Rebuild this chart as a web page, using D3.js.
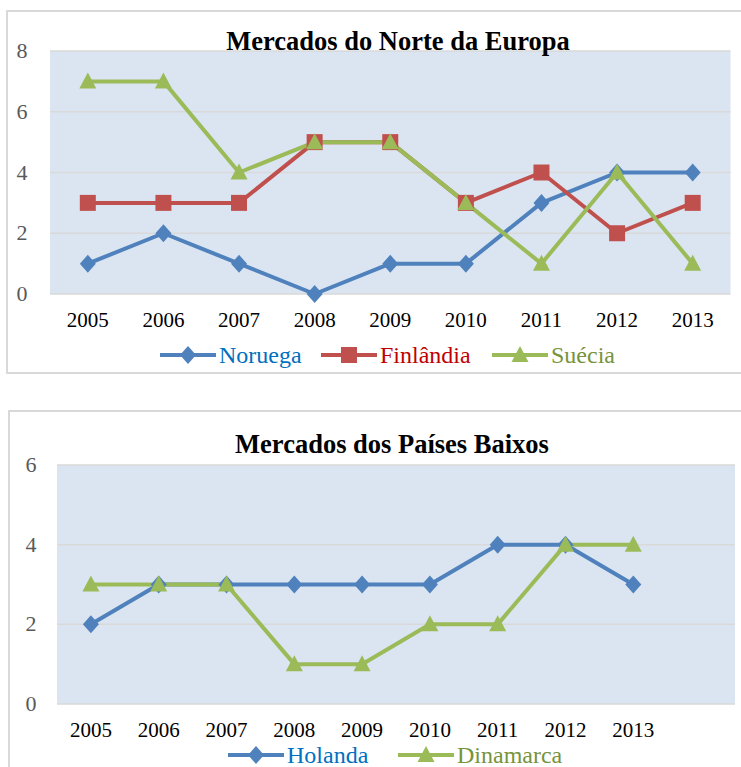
<!DOCTYPE html>
<html>
<head>
<meta charset="utf-8">
<script src="https://cdn.jsdelivr.net/npm/d3@7"></script>
<style>
  body { margin: 0; background: #fff; }
  text { font-family: "Liberation Serif", "Times New Roman", serif; }
</style>
</head>
<body>
<svg id="chart" width="741" height="767"></svg>
<script>
// ---- data ----
const years = ["2005", "2006", "2007", "2008", "2009", "2010", "2011", "2012", "2013"];

const noruega   = [1, 2, 1, 0, 1, 1, 3, 4, 4];
const finlandia = [3, 3, 3, 5, 5, 3, 4, 2, 3];
const suecia    = [7, 7, 4, 5, 5, 3, 1, 4, 1];

const holanda   = [2, 3, 3, 3, 3, 3, 4, 4, 3];
const dinamarca = [3, 3, 3, 1, 1, 2, 2, 4, 4];

const ticks1 = [0, 2, 4, 6, 8];
const ticks2 = [0, 2, 4, 6];

const BLUE = "#4f81bd", RED = "#c0504d", GREEN = "#9bbb59";

const svg = d3.select("#chart");

// draws one panel
function drawPanel(cfg) {
  const g = svg.append("g");

  // outer frame
  g.append("rect")
    .attr("x", cfg.frame[0]).attr("y", cfg.frame[1])
    .attr("width", cfg.frame[2]).attr("height", cfg.frame[3])
    .attr("fill", "#fff").attr("stroke", "#d9d9d9").attr("stroke-width", 2);

  const x = d3.scaleBand().domain(cfg.cats).range([cfg.left, cfg.right]);
  const y = d3.scaleLinear().domain([0, d3.max(cfg.ticks)]).range([cfg.bottom, cfg.top]);

  g.append("rect")
    .attr("x", cfg.left).attr("y", cfg.top)
    .attr("width", cfg.right - cfg.left).attr("height", cfg.bottom - cfg.top)
    .attr("fill", "#dbe5f1");

  // gridlines
  g.selectAll(".grid").data(cfg.ticks).enter().append("line")
    .attr("x1", cfg.left).attr("x2", cfg.right)
    .attr("y1", d => y(d)).attr("y2", d => y(d))
    .attr("stroke", "#d9d9d9").attr("stroke-width", 1.5);

  // y labels
  g.selectAll(".ylab").data(cfg.ticks).enter().append("text")
    .attr("x", cfg.ylabX).attr("y", d => y(d) + 7)
    .attr("text-anchor", "middle")
    .attr("fill", "#595959").style("font-size", "22px")
    .text(d => d);

  // x labels
  g.selectAll(".xlab").data(cfg.cats).enter().append("text")
    .attr("x", d => x(d) + x.bandwidth() / 2).attr("y", cfg.xlabY)
    .attr("text-anchor", "middle")
    .attr("fill", "#000").style("font-size", "21px")
    .text(d => d);

  // title
  g.append("text")
    .attr("x", cfg.titleX).attr("y", cfg.titleY)
    .attr("text-anchor", "middle")
    .style("font-size", "26.5px").style("font-weight", "bold")
    .text(cfg.title);

  const line = d3.line()
    .x((d, i) => x(years[i]) + x.bandwidth() / 2)
    .y(d => y(d));

  cfg.series.forEach(s => {
    g.append("path")
      .attr("d", line(s.values))
      .attr("fill", "none").attr("stroke", s.color)
      .attr("stroke-width", 4).attr("stroke-linejoin", "round");
  });
  cfg.series.forEach(s => {
    g.selectAll(null).data(s.values).enter().append("path")
      .attr("transform", (d, i) => `translate(${x(years[i]) + x.bandwidth() / 2},${y(d)})`)
      .attr("d", markerPath(s.marker))
      .attr("fill", s.color);
  });

  // legend
  cfg.series.forEach(s => {
    const lg = g.append("g").attr("transform", `translate(${s.legX},${cfg.legY})`);
    lg.append("line").attr("x1", 0).attr("x2", 56).attr("y1", 0).attr("y2", 0)
      .attr("stroke", s.color).attr("stroke-width", 4);
    lg.append("path").attr("transform", "translate(28,0)")
      .attr("d", markerPath(s.marker)).attr("fill", s.color);
    lg.append("text").attr("x", 59).attr("y", 8)
      .attr("fill", s.textColor).style("font-size", "24px")
      .text(s.name);
  });
}

function markerPath(type) {
  if (type === "diamond") return "M0,-9L8,0L0,9L-8,0Z";
  if (type === "square") return "M-8,-8H8V8H-8Z";
  return "M0,-9L8.5,7L-8.5,7Z";
}

drawPanel({
  frame: [7, 11, 740, 362],
  cats: years,
  left: 50, right: 730.5, top: 51, bottom: 294,
  ticks: ticks1, ylabX: 22, xlabY: 327,
  title: "Mercados do Norte da Europa", titleX: 398, titleY: 50,
  legY: 355,
  series: [
    { name: "Noruega", values: noruega, color: BLUE, marker: "diamond", textColor: "#0070c0", legX: 160 },
    { name: "Finlândia", values: finlandia, color: RED, marker: "square", textColor: "#c00000", legX: 321 },
    { name: "Suécia", values: suecia, color: GREEN, marker: "triangle", textColor: "#77933c", legX: 492 }
  ]
});

drawPanel({
  frame: [9, 411, 740, 380],
  cats: years.concat([""]),
  left: 57, right: 735, top: 465, bottom: 704,
  ticks: ticks2, ylabX: 31, xlabY: 737,
  title: "Mercados dos Países Baixos", titleX: 392, titleY: 453,
  legY: 755,
  series: [
    { name: "Holanda", values: holanda, color: BLUE, marker: "diamond", textColor: "#0070c0", legX: 228 },
    { name: "Dinamarca", values: dinamarca, color: GREEN, marker: "triangle", textColor: "#77933c", legX: 398 }
  ]
});
</script>
</body>
</html>
